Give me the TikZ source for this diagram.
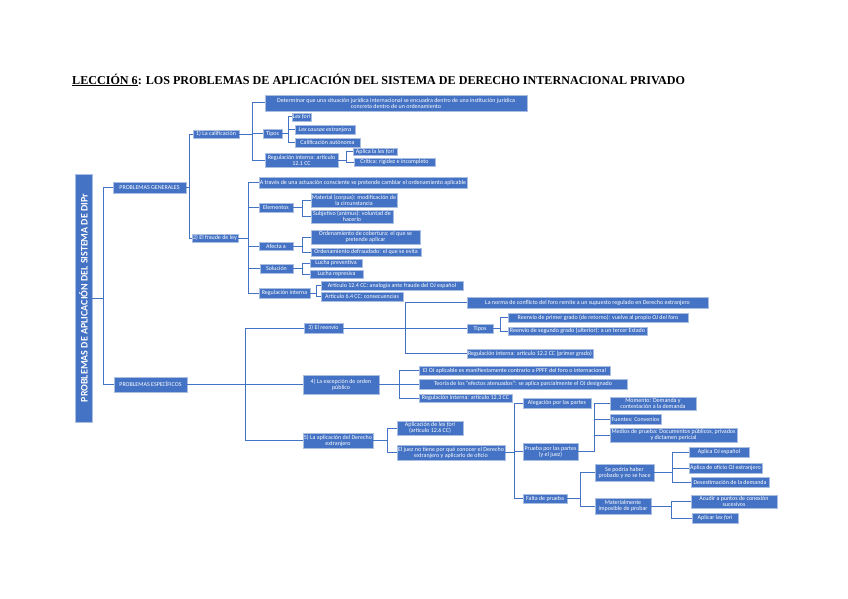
\documentclass[tikz,border=0pt]{standalone}
\usepackage{fontspec}
\setmainfont{Carlito}
\newfontfamily\titlefont{Liberation Serif}
\definecolor{boxblue}{RGB}{68,114,196}
\definecolor{boxedge}{RGB}{170,190,225}
\definecolor{lineblue}{RGB}{68,114,196}
\tikzset{
 bx/.style={draw=boxedge, line width=0.4pt, fill=boxblue, text=white, font=\fontsize{6}{6}\selectfont, inner xsep=1pt, inner ysep=0pt, align=center},
 ln/.style={draw=lineblue, line width=1pt},
}
\newcommand\NB[6]{%
 \pgfmathsetmacro\bw{#4-#2}\pgfmathsetmacro\bh{#5-#3}%
 \node[bx, minimum width=\bw pt, minimum height=\bh pt] (#1) at ({(#2+#4)/2},{(#3+#5)/2}) {#6};}
\newcommand\BR[3]{\draw[ln] (#1.east) -- (#2 |- #1.east) |- (#3.west);}
\begin{document}
\begin{tikzpicture}[x=1pt,y=-1pt]
\fill[white] (0,0) rectangle (848,599);
\useasboundingbox (0,0) rectangle (848,599);
\node[anchor=west, font=\titlefont\fontsize{12.1}{14}\selectfont\bfseries, inner sep=0] (title) at (72,80) {\underline{LECCIÓN 6}: LOS PROBLEMAS DE APLICACIÓN DEL SISTEMA DE DERECHO INTERNACIONAL PRIVADO};
% bus coordinates
\coordinate (b0) at (103,0);
\coordinate (bPG) at (189,0);
\coordinate (bCal) at (252,0);
\coordinate (bTip1) at (288,0);
\coordinate (bReg1) at (346,0);
\coordinate (bFr) at (248,0);
\coordinate (bEl) at (302,0);
\coordinate (bRi) at (316,0);
\coordinate (bPE) at (245,0);
\coordinate (bRe) at (405,0);
\coordinate (bTip2) at (500,0);
\coordinate (bEx) at (399,0);
\coordinate (bAp) at (387,0);
\coordinate (bJz) at (514,0);
\coordinate (bPr) at (594,0);
\coordinate (bFa) at (580,0);
\coordinate (bSe) at (672,0);
\coordinate (bMa) at (671,0);
% root
\node[bx, rotate=90, minimum width=248pt, minimum height=17pt, font=\fontsize{10}{10}\selectfont\bfseries] (root) at (83.5,298) {PROBLEMAS DE APLICACIÓN DEL SISTEMA DE DIPr};
% boxes
\NB{det}{265}{95}{527}{111}{Determinar que una situación jurídica internacional se encuadra dentro de una institución jurídica\\concreta dentro de un ordenamiento}
\NB{calif}{193}{130}{239}{138}{1) La calificación}
\NB{tipos1}{263}{129}{282}{138}{Tipos}
\NB{lexfori}{294}{113}{309}{121}{\textit{Lex fori}}
\NB{lexcausae}{295}{125}{355}{134}{\textit{Lex causae extranjera}}
\NB{calaut}{295}{138}{360}{147}{Calificación autónoma}
\NB{reg1}{265}{153}{338}{167}{Regulación interna: artículo\\12.1 CC}
\NB{aplica}{353}{148}{397}{155}{Aplica la \textit{lex fori}}
\NB{critica}{354}{158}{435}{166}{Crítica: rigidez e incompleto}
\NB{pg}{113}{182}{186}{193}{PROBLEMAS GENERALES}
\NB{fraude}{192}{234}{238}{242}{2) El fraude de ley}
\NB{atraves}{259}{177}{467}{188}{A través de una actuación consciente se pretende cambiar el ordenamiento aplicable}
\NB{elem}{259}{203}{293}{212}{Elementos}
\NB{material}{311}{193}{397}{207}{Material (corpus): modificación de\\la circunstancia}
\NB{subj}{311}{210}{393}{223}{Subjetivo (animus): voluntad de\\hacerlo}
\NB{afecta}{259}{242}{293}{250}{Afecta a}
\NB{ordcob}{311}{230}{420}{244}{Ordenamiento de cobertura: el que se\\pretende aplicar}
\NB{ordefr}{311}{248}{421}{256}{Ordenamiento defraudado: el que se evita}
\NB{sol}{260}{264}{293}{273}{Solución}
\NB{prev}{310}{259}{362}{267}{Lucha preventiva}
\NB{repr}{310}{270}{363}{278}{Lucha represiva}
\NB{regint}{259}{288}{310}{298}{Regulación interna}
\NB{art124}{321}{281}{463}{290}{Artículo 12.4 CC: analogía ante fraude del OJ español}
\NB{art64}{321}{292}{403}{301}{Artículo 6.4 CC: consecuencias}
\NB{pe}{114}{377}{187}{392}{PROBLEMAS ESPECÍFICOS}
\NB{reenvio}{304}{323}{343}{333}{3) El reenvío}
\NB{norma}{467}{297}{708}{308}{La norma de conflicto del foro remite a un supuesto regulado en Derecho extranjero}
\NB{tipos2}{467}{324}{493}{333}{Tipos}
\NB{primer}{508}{313}{688}{322}{Reenvío de primer grado (de retorno): vuelve al propio OJ del foro}
\NB{segundo}{508}{327}{647}{335}{Reenvío de segundo grado (ulterior): a un tercer Estado}
\NB{reg2}{467}{349}{593}{358}{Regulación interna: artículo 12.2 CC (primer grado)}
\NB{excep}{303}{375}{379}{394}{4) La excepción de orden\\público}
\NB{ojapl}{419}{366}{610}{375}{El OJ aplicable es manifiestamente contrario a PPFF del foro o internacional}
\NB{teoria}{419}{379}{627}{389}{Teoría de los "efectos atenuados": se aplica parcialmente el OJ designado}
\NB{reg3}{419}{394}{512}{402}{Regulación interna: artículo 12.3 CC}
\NB{aplic}{303}{433}{373}{448}{5) La aplicación del Derecho\\extranjero}
\NB{alexfori}{397}{421}{463}{435}{Aplicación de \textit{lex fori}\\(artículo 12.6 CC)}
\NB{juez}{397}{445}{505}{460}{El juez no tiene por qué conocer el Derecho\\extranjero y aplicarlo de oficio}
\NB{alegacion}{523}{398}{591}{408}{Alegación por las partes}
\NB{prueba}{523}{443}{578}{460}{Prueba por las partes\\(y el juez)}
\NB{falta}{523}{494}{567}{503}{Falta de prueba}
\NB{momento}{610}{397}{696}{410}{Momento: Demanda y\\contestación a la demanda}
\NB{fuentes}{610}{414}{661}{424}{Fuentes: Convenios}
\NB{medios}{610}{428}{737}{442}{Medios de prueba: Documentos públicos, privados\\y dictamen pericial}
\NB{sepodria}{595}{464}{654}{481}{Se podría haber\\probado y no se hace}
\NB{materialm}{595}{498}{651}{514}{Materialmente\\imposible de probar}
\NB{aplicaoj}{689}{447}{749}{457}{Aplica OJ español}
\NB{oficio}{689}{463}{762}{473}{Aplica de oficio OJ extranjero}
\NB{desest}{691}{477}{769}{487}{Desestimación de la demanda}
\NB{acudir}{691}{495}{777}{508}{Acudir a puntos de conexión\\sucesivos}
\NB{aplicar}{692}{513}{738}{523}{Aplicar \textit{lex fori}}
% connectors
\draw[ln] (root.south) -- (b0 |- root.south) |- (pg.west);
\draw[ln] (root.south) -- (b0 |- root.south) |- (pe.west);
\BR{pg}{bPG}{calif}\BR{pg}{bPG}{fraude}
\BR{calif}{bCal}{det}\BR{calif}{bCal}{tipos1}\BR{calif}{bCal}{reg1}
\BR{tipos1}{bTip1}{lexfori}\BR{tipos1}{bTip1}{lexcausae}\BR{tipos1}{bTip1}{calaut}
\BR{reg1}{bReg1}{aplica}\BR{reg1}{bReg1}{critica}
\BR{fraude}{bFr}{atraves}\BR{fraude}{bFr}{elem}\BR{fraude}{bFr}{afecta}\BR{fraude}{bFr}{sol}\BR{fraude}{bFr}{regint}
\BR{elem}{bEl}{material}\BR{elem}{bEl}{subj}
\BR{afecta}{bEl}{ordcob}\BR{afecta}{bEl}{ordefr}
\BR{sol}{bEl}{prev}\BR{sol}{bEl}{repr}
\BR{regint}{bRi}{art124}\BR{regint}{bRi}{art64}
\BR{pe}{bPE}{reenvio}\BR{pe}{bPE}{excep}\BR{pe}{bPE}{aplic}
\BR{reenvio}{bRe}{norma}\BR{reenvio}{bRe}{tipos2}\BR{reenvio}{bRe}{reg2}
\BR{tipos2}{bTip2}{primer}\BR{tipos2}{bTip2}{segundo}
\BR{excep}{bEx}{ojapl}\BR{excep}{bEx}{teoria}\BR{excep}{bEx}{reg3}
\BR{aplic}{bAp}{alexfori}\BR{aplic}{bAp}{juez}
\BR{juez}{bJz}{alegacion}\BR{juez}{bJz}{prueba}\BR{juez}{bJz}{falta}
\BR{prueba}{bPr}{momento}\BR{prueba}{bPr}{fuentes}\BR{prueba}{bPr}{medios}
\BR{falta}{bFa}{sepodria}\BR{falta}{bFa}{materialm}
\BR{sepodria}{bSe}{aplicaoj}\BR{sepodria}{bSe}{oficio}\BR{sepodria}{bSe}{desest}
\BR{materialm}{bMa}{acudir}\BR{materialm}{bMa}{aplicar}
\end{tikzpicture}
\end{document}
